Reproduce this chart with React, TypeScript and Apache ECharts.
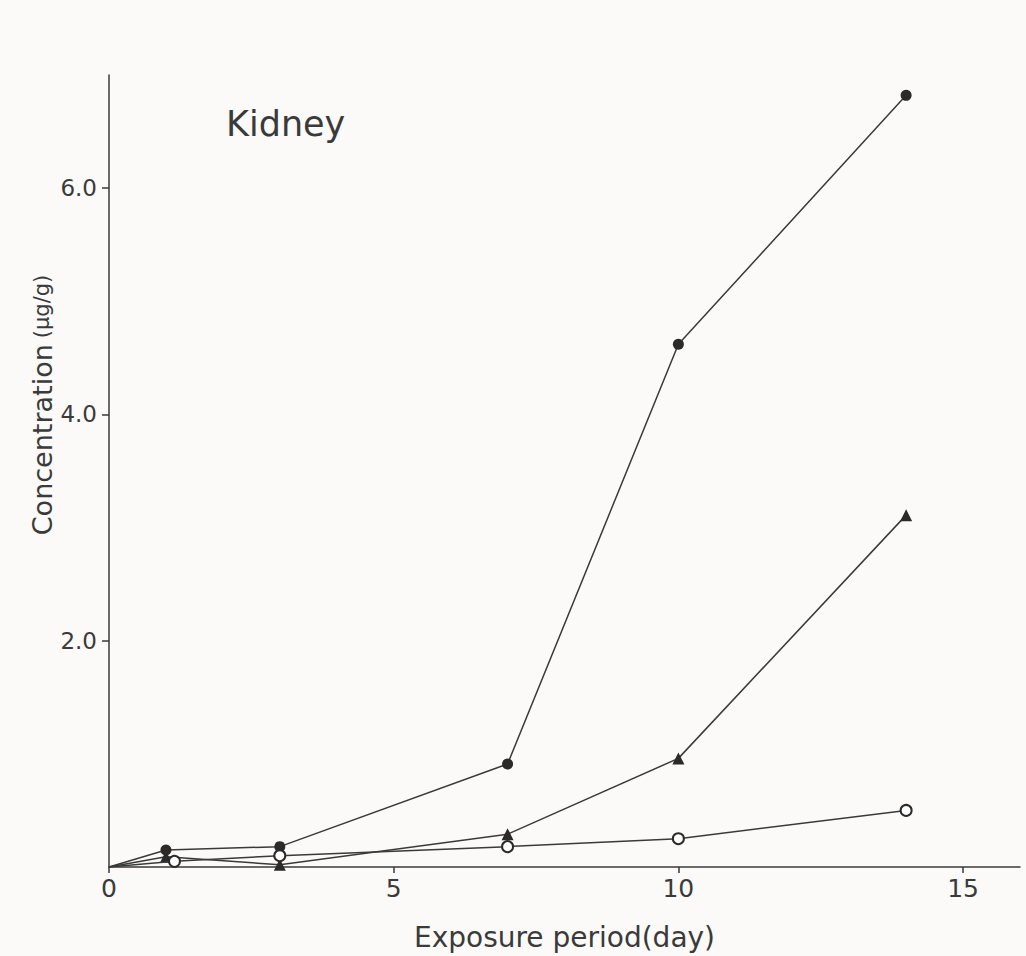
import React, { useEffect, useRef } from "react";
import * as echarts from "echarts";

const days = [0, 1, 3, 7, 10, 14];
const openDays = [0, 1.15, 3, 7, 10, 14];
const filledCircle = [0, 0.15, 0.18, 0.91, 4.62, 6.82];
const filledTriangle = [0, 0.09, 0.02, 0.29, 0.96, 3.11];
const openCircle = [0, 0.05, 0.1, 0.18, 0.25, 0.5];

const xTicks = [0, 5, 10, 15];
const yTicks = [2, 4, 6];

const INK = "#3a3a3a";
const FONT = "DejaVu Sans";

function pairs(xs: number[], ys: number[]) {
  // first point (origin) is drawn without a marker
  return xs.map((x, i) =>
    i === 0 ? { value: [x, ys[i]], symbol: "none" } : { value: [x, ys[i]] }
  );
}

export default function App() {
  const ref = useRef<HTMLDivElement>(null);
  useEffect(() => {
    if (!ref.current) return;
    const chart = echarts.init(ref.current, undefined, { renderer: "svg" });
    const lineStyle = { color: INK, width: 1.5 };
    chart.setOption({
      animation: false,
      backgroundColor: "#fbfaf8",
      grid: { left: 109, right: 6, top: 75, bottom: 85 },
      xAxis: {
        type: "value",
        min: 0,
        max: 16,
        interval: 5,
        name: "Exposure period(day)",
        nameLocation: "middle",
        nameGap: 56,
        nameTextStyle: { fontFamily: FONT, fontSize: 28, color: INK },
        axisLine: { lineStyle: { color: INK, width: 1.5 } },
        axisTick: {
          show: true,
          length: 6,
          customValues: xTicks,
          lineStyle: { color: INK, width: 1.5 },
        },
        axisLabel: {
          fontFamily: FONT,
          fontSize: 25,
          color: INK,
          margin: 9,
          customValues: xTicks,
          formatter: (v: number) => String(v),
        },
        splitLine: { show: false },
      },
      yAxis: {
        type: "value",
        min: 0,
        max: 7,
        interval: 2,
        axisLine: { show: true, lineStyle: { color: INK, width: 1.5 } },
        axisTick: {
          show: true,
          length: 7,
          customValues: yTicks,
          lineStyle: { color: INK, width: 1.5 },
        },
        axisLabel: {
          fontFamily: FONT,
          fontSize: 23,
          color: INK,
          margin: 12,
          customValues: yTicks,
          formatter: (v: number) => v.toFixed(1),
        },
        splitLine: { show: false },
      },
      graphic: [
        {
          type: "text",
          left: 226,
          top: 106,
          style: { text: "Kidney", fontFamily: FONT, fontSize: 35, fill: INK },
        },
        {
          type: "text",
          x: 42,
          y: 405,
          rotation: Math.PI / 2,
          style: {
            text: "Concentration{s|(μg/g)}",
            fontFamily: FONT,
            fontSize: 27,
            fill: INK,
            align: "center",
            verticalAlign: "middle",
            rich: { s: { fontFamily: FONT, fontSize: 21, fill: INK, padding: [0, 0, 0, 6] } },
          },
        },
      ],
      series: [
        {
          type: "line",
          data: pairs(days, filledCircle),
          symbol: "circle",
          symbolSize: 11,
          showAllSymbol: true,
          itemStyle: { color: "#2a2a2a" },
          lineStyle,
          z: 3,
        },
        {
          type: "line",
          data: pairs(days, filledTriangle),
          symbol: "triangle",
          symbolSize: 12,
          showAllSymbol: true,
          itemStyle: { color: "#2a2a2a" },
          lineStyle,
          z: 4,
        },
        {
          type: "line",
          data: pairs(openDays, openCircle),
          symbol: "circle",
          symbolSize: 11,
          showAllSymbol: true,
          itemStyle: { color: "#ffffff", borderColor: "#2a2a2a", borderWidth: 2 },
          lineStyle,
          z: 5,
        },
      ],
    });
    return () => chart.dispose();
  }, []);
  return (
    <div
      ref={ref}
      style={{ position: "fixed", left: 0, top: 0, width: 1026, height: 956 }}
    />
  );
}
